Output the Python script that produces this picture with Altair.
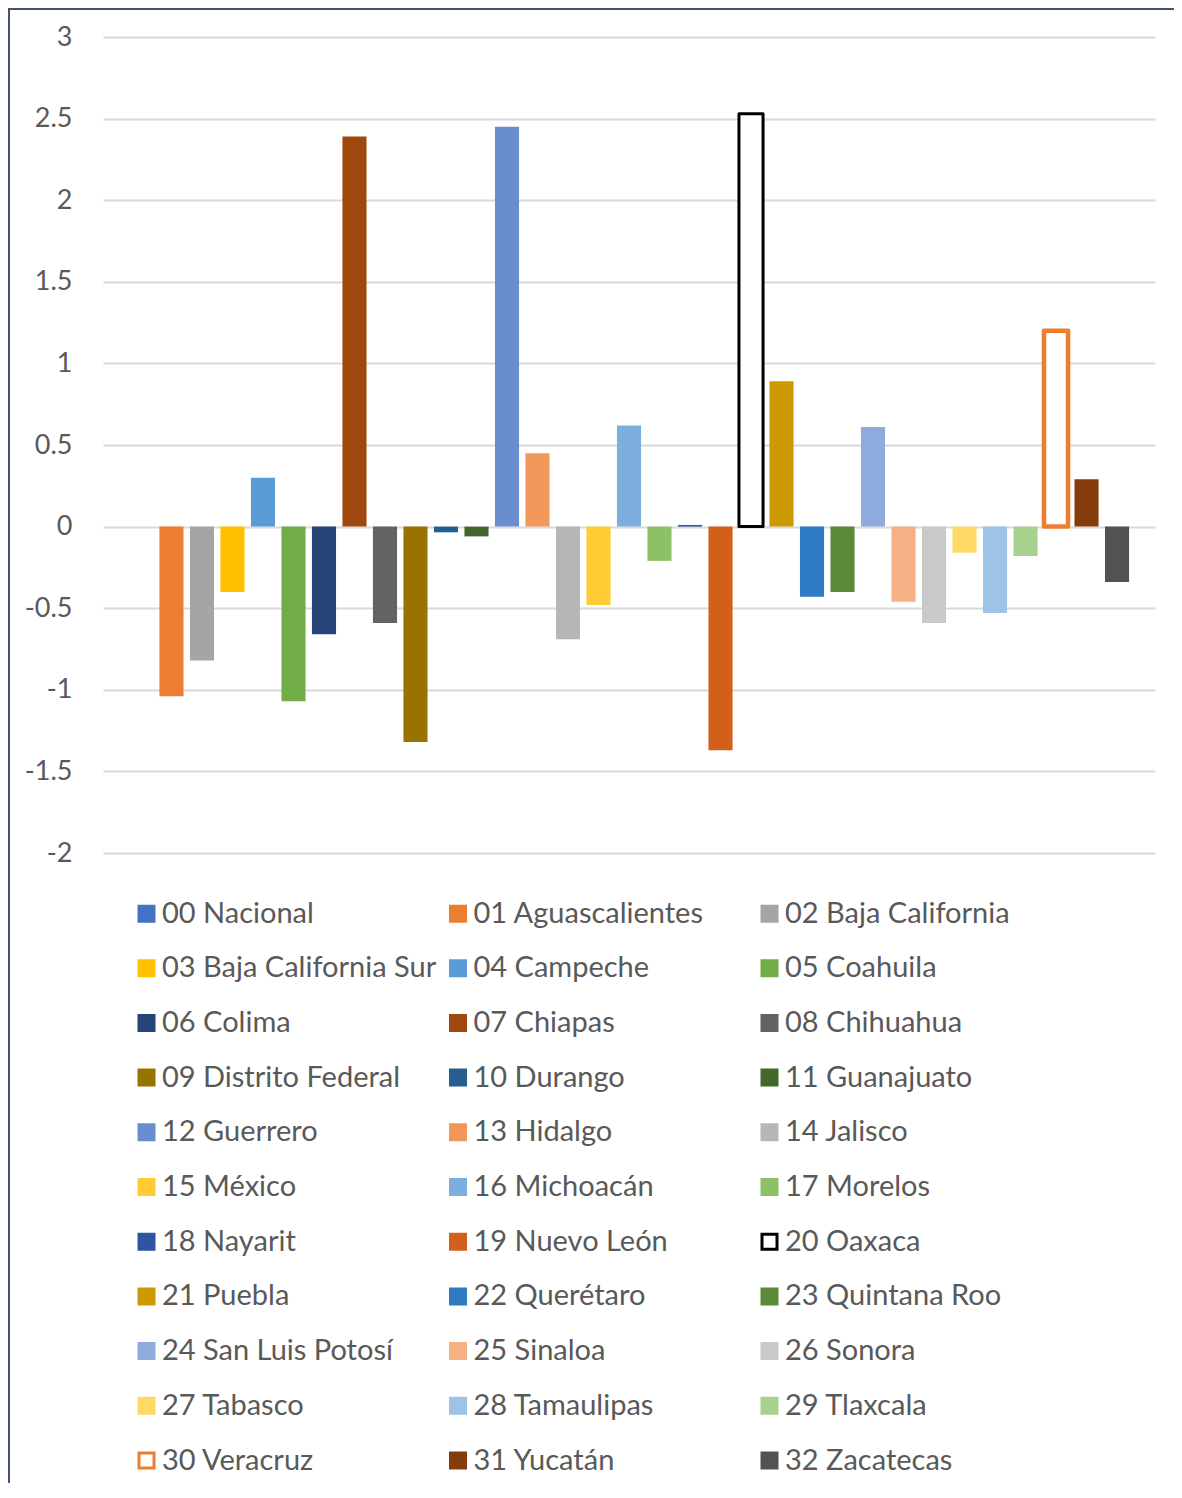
import altair as alt
import pandas as pd

names = [
    "00 Nacional", "01 Aguascalientes", "02 Baja California", "03 Baja California Sur",
    "04 Campeche", "05 Coahuila", "06 Colima", "07 Chiapas", "08 Chihuahua",
    "09 Distrito Federal", "10 Durango", "11 Guanajuato", "12 Guerrero", "13 Hidalgo",
    "14 Jalisco", "15 México", "16 Michoacán", "17 Morelos", "18 Nayarit",
    "19 Nuevo León", "20 Oaxaca", "21 Puebla", "22 Querétaro", "23 Quintana Roo",
    "24 San Luis Potosí", "25 Sinaloa", "26 Sonora", "27 Tabasco", "28 Tamaulipas",
    "29 Tlaxcala", "30 Veracruz", "31 Yucatán", "32 Zacatecas",
]
values = [
    0.0, -1.04, -0.82, -0.40, 0.30, -1.07, -0.66, 2.39, -0.59, -1.32, -0.035,
    -0.06, 2.45, 0.45, -0.69, -0.48, 0.62, -0.21, 0.01, -1.37, 2.53, 0.89,
    -0.43, -0.40, 0.61, -0.46, -0.59, -0.16, -0.53, -0.18, 1.20, 0.29, -0.34,
]
fill_colors = [
    "#4472C4", "#ED7D31", "#A5A5A5", "#FFC000", "#5B9BD5", "#70AD47",
    "#264478", "#9E480E", "#636363", "#997300", "#255E91", "#43682B",
    "#698ED0", "#F1975A", "#B7B7B7", "#FFCD33", "#7CAFDD", "#8CC168",
    "#2F55A0", "#D2601A", "#FFFFFF", "#CC9A00", "#2E7BC4", "#5A8A3A",
    "#8FAADC", "#F4B183", "#C9C9C9", "#FFD966", "#9DC3E6", "#A9D18E",
    "#FFFFFF", "#843C0C", "#525252",
]
stroke_colors = list(fill_colors)
stroke_colors[20] = "#000000"
stroke_colors[30] = "#ED7D31"
y_ticks = [-2, -1.5, -1, -0.5, 0, 0.5, 1, 1.5, 2, 2.5, 3]

W, H = 1052, 816
FONT = "Lato"
TXT = "#595959"

df = pd.DataFrame({"serie": names, "valor": values})

legend = alt.Legend(
    title=None, orient="none", legendX=29, legendY=862, columns=3,
    direction="horizontal", symbolLimit=100,
    gridAlign="all", columnPadding=6.5, rowPadding=24.7, symbolType="square",
    symbolSize=225, symbolStrokeWidth=3, labelFont=FONT, labelFontSize=29,
    labelColor=TXT, labelLimit=500, labelOffset=1, padding=0,
)

bars = alt.Chart(df).mark_bar(strokeJoin="round").encode(
    x=alt.X("serie:N", sort=names, axis=None,
            scale=alt.Scale(paddingInner=0.21, paddingOuter=0.85)),
    y=alt.Y("valor:Q",
            scale=alt.Scale(domain=[-2, 3], nice=False, zero=True),
            axis=alt.Axis(values=y_ticks, title=None, domain=False, ticks=False,
                          labelFont=FONT, labelFontSize=27, labelColor=TXT,
                          labelPadding=31, gridColor="#D9D9D9", gridWidth=2,
                          labelExpr="toString(datum.value)")),
    fill=alt.Fill("serie:N", sort=names,
                  scale=alt.Scale(domain=names, range=fill_colors), legend=legend),
    stroke=alt.Stroke("serie:N", sort=names,
                      scale=alt.Scale(domain=names, range=stroke_colors), legend=legend),
    strokeWidth={
        "condition": [
            {"test": "datum.serie === '20 Oaxaca'", "value": 3},
            {"test": "datum.serie === '30 Veracruz'", "value": 4.5},
        ],
        "value": 0,
    },
)

frame_df = pd.DataFrame({"k": [0]})
left_line = alt.Chart(frame_df).mark_rule(color="#44546A", strokeWidth=2).encode(
    x=alt.value(-94), y=alt.value(-29), y2=alt.value(H + 640))
top_line = alt.Chart(frame_df).mark_rule(color="#44546A", strokeWidth=2).encode(
    x=alt.value(-95), x2=alt.value(W + 19), y=alt.value(-28))

chart = alt.layer(bars, left_line, top_line).properties(
    width=W, height=H,
    autosize=alt.AutoSizeParams(type="none"),
    padding={"left": 95, "top": 29, "right": 19, "bottom": 630},
).configure_view(stroke=None).configure_axis(grid=True)

chart.save("out.html", embed_options={"renderer": "svg", "actions": False})
